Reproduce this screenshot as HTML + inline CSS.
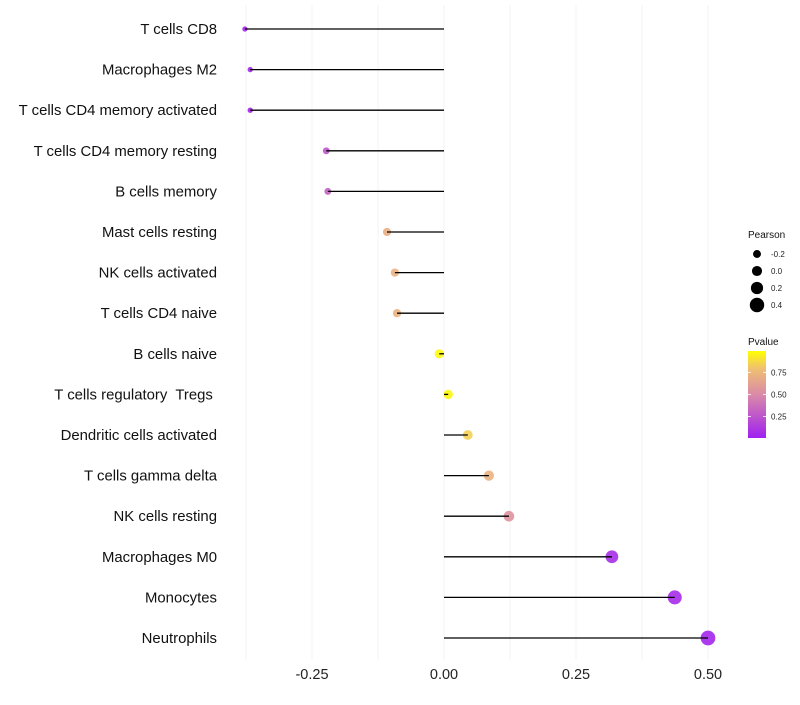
<!DOCTYPE html>
<html><head><meta charset="utf-8"><style>
body{margin:0;background:#fff;font-family:"Liberation Sans",sans-serif}
</style></head><body>
<svg id="c" width="800" height="700" xmlns="http://www.w3.org/2000/svg" font-family="Liberation Sans, sans-serif"></svg>
<script>
const categories=["T cells CD8","Macrophages M2","T cells CD4 memory activated","T cells CD4 memory resting","B cells memory","Mast cells resting","NK cells activated","T cells CD4 naive","B cells naive","T cells regulatory\u00a0 Tregs\u00a0","Dendritic cells activated","T cells gamma delta","NK cells resting","Macrophages M0","Monocytes","Neutrophils"];
const pearson=[-0.377,-0.367,-0.367,-0.223,-0.22,-0.108,-0.093,-0.089,-0.009,0.008,0.045,0.085,0.123,0.318,0.437,0.5];
const pvalue=[0.02,0.03,0.03,0.25,0.3,0.7,0.72,0.72,0.98,0.97,0.85,0.72,0.55,0.06,0.05,0.03];
const xTicks=[-0.25,0,0.25,0.5];
const xTickLabels=["-0.25","0.00","0.25","0.50"];
const sizeLegend=[-0.2,0,0.2,0.4];
const sizeLegendLabels=["-0.2","0.0","0.2","0.4"];
const colorLegend=[0.25,0.5,0.75];

const svg=document.getElementById('c');const NS='http://www.w3.org/2000/svg';
function mk(t,a,p){const e=document.createElementNS(NS,t);for(const k in a)e.setAttribute(k,a[k]);(p||svg).appendChild(e);return e;}
const x=v=>444+v*528;
const y=i=>29+i*40.6;
const r=v=>2.6+(v+0.38)*5.4;
function lerp(a,b,t){return a.map((c,i)=>Math.round(c+(b[i]-c)*t));}
const stops=[[0,[160,32,240]],[0.5,[218,138,168]],[0.8,[240,192,112]],[1,[255,255,0]]];
function col(p){for(let i=1;i<stops.length;i++){if(p<=stops[i][0]){const t=(p-stops[i-1][0])/(stops[i][0]-stops[i-1][0]);const c=lerp(stops[i-1][1],stops[i][1],t);return `rgb(${c})`;}}return 'rgb(255,255,0)';}
[-0.375,-0.25,-0.125,0,0.125,0.25,0.375,0.5].forEach(v=>{const g=mk('line',{x1:x(v),x2:x(v),y1:5,y2:660,stroke:'#f3f3f3','stroke-width':1});

});
xTicks.forEach((v,i)=>{const t=mk('text',{x:x(v),y:679,'font-size':14.5,'text-anchor':'middle',fill:'#222'});t.textContent=xTickLabels[i];

});
categories.forEach((c,i)=>{
const t=mk('text',{x:217,y:y(i)+5,'font-size':14.9,'text-anchor':'end',fill:'#111'});t.textContent=c;


const p=mk('circle',{cx:x(pearson[i]),cy:y(i),r:r(pearson[i]),fill:col(pvalue[i]),'fill-opacity':0.9});


const l=mk('line',{x1:x(0),x2:x(pearson[i]),y1:y(i),y2:y(i),stroke:'#000','stroke-width':1.3});


});
const lt=mk('text',{x:748,y:238,'font-size':10,fill:'#111'});lt.textContent='Pearson';


sizeLegend.forEach((v,i)=>{const cy=254+i*17;
const c=mk('circle',{cx:757,cy:cy,r:r(v)+0.4,fill:'#000'});


const t=mk('text',{x:771,y:cy+3,'font-size':8,fill:'#222'});t.textContent=sizeLegendLabels[i];

});
const ct=mk('text',{x:748,y:345,'font-size':10,fill:'#111'});ct.textContent='Pvalue';


const defs=mk('defs',{});const lg=mk('linearGradient',{id:'g',x1:0,y1:1,x2:0,y2:0},defs);
stops.forEach(s=>mk('stop',{offset:s[0],'stop-color':`rgb(${s[1]})`},lg));
const bar=mk('rect',{x:748,y:351,width:18,height:87,fill:'url(#g)'});


const cy=p=>438-(p-0.005)/0.99*87;
colorLegend.forEach(v=>{const t=mk('text',{x:771,y:cy(v)+3,'font-size':8,fill:'#222'});t.textContent=v.toFixed(2);


mk('line',{x1:748,x2:751,y1:cy(v),y2:cy(v),stroke:'#fff','stroke-width':0.8});mk('line',{x1:763,x2:766,y1:cy(v),y2:cy(v),stroke:'#fff','stroke-width':0.8});});
</script>
</body></html>
